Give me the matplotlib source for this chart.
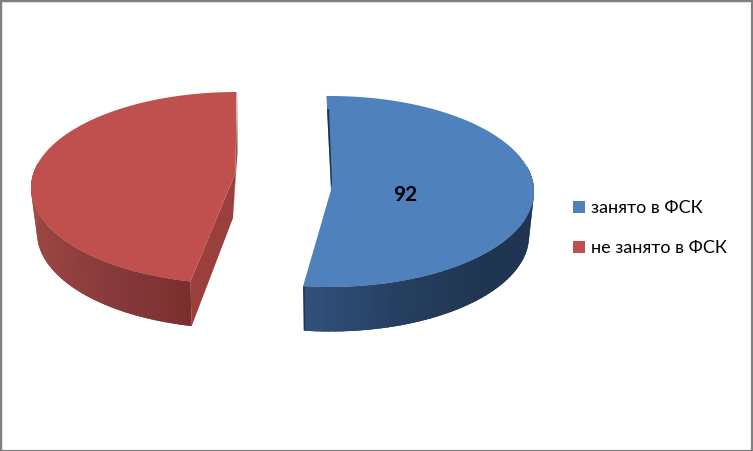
import matplotlib
matplotlib.use('Agg')
import matplotlib.pyplot as plt
from matplotlib.patches import Patch
import numpy as np

plt.rcParams['font.family'] = ['Lato', 'Noto Sans', 'DejaVu Sans']

# Data for the plot
labels = ['занято в ФСК', 'не занято в ФСК']
values = [92, 84]
shown_label = ['92', '']

# Look of each slice (pixels of the picture)
top_colors = ['#4f81bd', '#c0504d']
cut_colors = ['#1d3550', '#9a3f3b']
center_x = [330, 236.5]
center_y = [191.5, 188]
radius_x = [204, 205.5]
radius_y = [95.5, 96]
apex_shift = [(1, -1.5), (-1, -15)]
angle_trim = [(-1.0, -0.6), (4.8, 0.0)]
depth = 44.5
wall_rx = [-5, -6]
wall_angles = [(75, 130, 160, 187.6), (193, 215, 245, 285)]
wall_colors = [('#1f3450', '#1f3551', '#263f60', '#31527c'),
               ('#7a2f2e', '#86393a', '#974441', '#a44b47')]


def hex_rgb(c):
    return np.array(matplotlib.colors.to_rgb(c))


def rim(i, t, bottom=False):
    t = np.radians(t)
    rx = radius_x[i] + (wall_rx[i] if bottom else 0)
    dy = depth if bottom else 0
    return center_x[i] + rx * np.sin(t), center_y[i] + dy - radius_y[i] * np.cos(t)


fig, ax = plt.subplots(figsize=(7.53, 4.51), dpi=100)
ax.set_position([0, 0, 1, 1])
ax.set_xlim(0, 753)
ax.set_ylim(451, 0)
ax.set_xticks([])
ax.set_yticks([])

# start and end angle of each slice from the values
edges = np.concatenate([[0], np.cumsum(values)]) / sum(values) * 360

for i in [1, 0]:
    t0 = edges[i] + angle_trim[i][0]
    t1 = edges[i + 1] + angle_trim[i][1]
    apex_x = center_x[i] + apex_shift[i][0]
    apex_y = center_y[i] + apex_shift[i][1]

    # outer wall: one solid base, then shaded strips on top of it
    a_lo, a_hi = wall_angles[i][0], wall_angles[i][-1]
    stops = np.array([hex_rgb(c) for c in wall_colors[i]])
    steps = np.linspace(a_lo, a_hi, 60)
    base_t = np.linspace(a_lo, a_hi, 200)
    xa, ya = rim(i, base_t)
    xb, yb = rim(i, base_t[::-1], True)
    ax.fill(np.r_[xa, xb], np.r_[ya, yb], color=wall_colors[i][1], lw=0, zorder=2 + i)
    for a, b in zip(steps[:-1], steps[1:]):
        mid = (a + b) / 2
        col = [np.interp(mid, wall_angles[i], stops[:, k]) for k in range(3)]
        strip = np.linspace(a, b + 0.5, 6)
        strip = strip[strip <= a_hi]
        xa, ya = rim(i, strip)
        xb, yb = rim(i, strip[::-1], True)
        ax.fill(np.r_[xa, xb], np.r_[ya, yb], color=col, lw=0, zorder=2 + i)

    # cut faces of the red slice
    if i == 1:
        bx, by = rim(i, t0)
        cx, cy = rim(i, t0, True)
        ax.fill([apex_x, bx, cx, apex_x - 2.5], [apex_y, by, cy, apex_y + depth + 0.5],
                color=cut_colors[i], lw=0, zorder=3)
        tx, ty = rim(i, t1)
        ax.fill([tx + 0.7, apex_x, apex_x - 2.5, apex_x + 2], [ty, apex_y, apex_y + depth + 0.5, ty + 60],
                color=cut_colors[i], lw=0, zorder=3)

    # top of the slice
    ts = np.linspace(t0, t1, 200)
    xs, ys = rim(i, ts)
    ax.fill(np.r_[apex_x, xs], np.r_[apex_y, ys], color=top_colors[i], lw=0, zorder=4 + i)

    # thin inner sliver next to the blue top
    if i == 0:
        tx, ty = rim(i, t0)
        ax.fill([tx + 0.6, apex_x, apex_x + 1, tx + 2.6], [ty + 13, apex_y - 2, apex_y - 7, ty + 13],
                color=cut_colors[i], lw=0, zorder=6)

    if shown_label[i]:
        ax.text(405, 195, shown_label[i], ha='center', va='center', fontsize=15,
                fontweight='bold', color='black', zorder=7)

handles = [Patch(facecolor=c, edgecolor='none') for c in top_colors]
ax.legend(handles, labels, loc='upper left', bbox_to_anchor=(566, 193), bbox_transform=ax.transData,
          frameon=False, fontsize=13, handlelength=0.66, handleheight=0.66, handletextpad=0.3,
          labelspacing=1.32, borderpad=0.4, borderaxespad=0)

# grey frame round the picture
for side, width in [('left', 3.2), ('top', 3.2), ('right', 3.0), ('bottom', 1.6)]:
    ax.spines[side].set_linewidth(width)
    ax.spines[side].set_color('#808080')

fig.savefig('out.png', dpi=100)
